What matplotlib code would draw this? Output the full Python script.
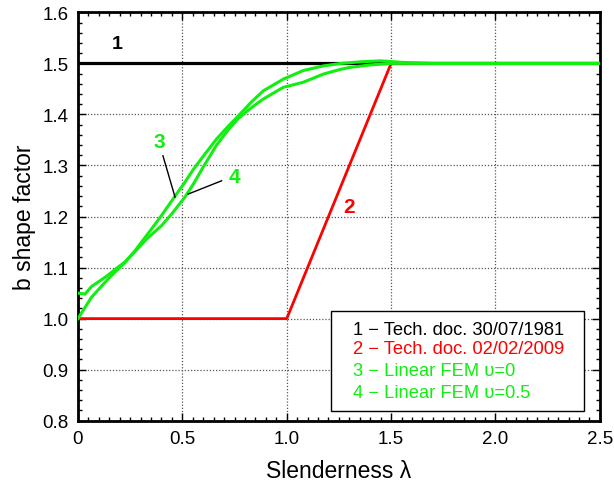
import matplotlib
matplotlib.use("Agg")
import matplotlib.pyplot as plt
from matplotlib.ticker import MultipleLocator, FuncFormatter
from matplotlib.patches import Rectangle

plt.rcParams['font.family'] = ['Liberation Sans', 'DejaVu Sans']

# Curve 1: Tech. doc. 30/07/1981
x1 = [0.0, 2.5]
y1 = [1.5, 1.5]
# Curve 2: Tech. doc. 02/02/2009
x2 = [0.0, 1.0, 1.5, 2.5]
y2 = [1.0, 1.0, 1.5, 1.5]
# Curve 3: Linear FEM nu=0
x3 = [0.0, 0.065, 0.145, 0.225, 0.273, 0.353, 0.40, 0.465, 0.512, 0.552, 0.60,
      0.664, 0.72, 0.768, 0.83, 0.887, 0.983, 1.079, 1.175, 1.255, 1.35, 1.45,
      1.55, 1.7, 2.0, 2.5]
y3 = [1.0, 1.042, 1.078, 1.110, 1.133, 1.176, 1.202, 1.240, 1.267, 1.292, 1.318,
      1.352, 1.377, 1.397, 1.424, 1.446, 1.469, 1.486, 1.495, 1.4997, 1.503, 1.505,
      1.502, 1.5, 1.5, 1.5]
# Curve 4: Linear FEM nu=0.5
x4 = [0.0, 0.034, 0.065, 0.105, 0.137, 0.177, 0.225, 0.273, 0.329, 0.40, 0.449,
      0.512, 0.552, 0.60, 0.664, 0.72, 0.768, 0.83, 0.887, 0.983, 1.079, 1.175,
      1.255, 1.30, 1.4, 1.5, 1.7, 2.0, 2.5]
y4 = [1.05, 1.048, 1.063, 1.074, 1.083, 1.096, 1.111, 1.131, 1.156, 1.182, 1.205,
      1.238, 1.263, 1.297, 1.340, 1.370, 1.392, 1.413, 1.430, 1.453, 1.463, 1.479,
      1.488, 1.492, 1.497, 1.5, 1.5, 1.5, 1.5]

legend_labels = ["1 \u2212 Tech. doc. 30/07/1981",
                 "2 \u2212 Tech. doc. 02/02/2009",
                 "3 \u2212 Linear FEM \u03c5=0",
                 "4 \u2212 Linear FEM \u03c5=0.5"]

GREEN = '#11ee11'
RED = '#ff0000'
BLACK = '#000000'

fig = plt.figure(figsize=(6.14, 4.85), dpi=100)
ax = fig.add_axes([0.127, 0.1305, 0.850, 0.842])

ax.plot(x1, y1, color=BLACK, lw=2.3, zorder=3)
ax.plot(x2, y2, color=RED, lw=2.0, zorder=4)
ax.plot(x3, y3, color=GREEN, lw=2.2, zorder=5)
ax.plot(x4, y4, color=GREEN, lw=2.2, zorder=5)

ax.set_xlim(0, 2.5)
ax.set_ylim(0.8, 1.6)
ax.xaxis.set_major_locator(MultipleLocator(0.5))
ax.xaxis.set_minor_locator(MultipleLocator(0.05))
ax.yaxis.set_major_locator(MultipleLocator(0.1))
ax.yaxis.set_minor_locator(MultipleLocator(0.02))
ax.xaxis.set_major_formatter(FuncFormatter(lambda v, p: "0" if abs(v) < 1e-9 else f"{v:.1f}"))
ax.yaxis.set_major_formatter(FuncFormatter(lambda v, p: f"{v:.1f}"))
ax.tick_params(which='both', direction='in', top=True, right=True, labelsize=13.5,
               width=1.0)
ax.tick_params(which='major', length=6, pad=7)
ax.tick_params(which='minor', length=3)
for s in ax.spines.values():
    s.set_linewidth(2.0)
ax.grid(True, which='major', linestyle=(0, (1, 1.5)), color='#555555', lw=0.9, zorder=1)

ax.set_xlabel("Slenderness \u03bb", fontsize=16.5, labelpad=8)
ax.set_ylabel("b shape factor", fontsize=16.5, labelpad=4)

# curve labels
ax.text(0.19, 1.538, "1", color=BLACK, fontsize=14, fontweight='bold', ha='center', va='center')
ax.text(1.30, 1.219, "2", color=RED, fontsize=15, fontweight='bold', ha='center', va='center')
ax.text(0.39, 1.346, "3", color=GREEN, fontsize=15, fontweight='bold', ha='center', va='center')
ax.text(0.75, 1.278, "4", color=GREEN, fontsize=15, fontweight='bold', ha='center', va='center')
ax.plot([0.407, 0.465], [1.319, 1.238], color=BLACK, lw=1.0, zorder=6)
ax.plot([0.688, 0.528], [1.270, 1.244], color=BLACK, lw=1.0, zorder=6)

# legend box
ax.add_patch(Rectangle((0.485, 0.0245), 0.484, 0.2445, transform=ax.transAxes,
                       facecolor='white', edgecolor='black', lw=1.0, zorder=7))
cols = [BLACK, RED, GREEN, GREEN]
ys = [0.2245, 0.1756, 0.1224, 0.0695]
for lab, c, yy in zip(legend_labels, cols, ys):
    ax.text(0.527, yy, lab, color=c, fontsize=13.2, transform=ax.transAxes,
            ha='left', va='center', zorder=8)

fig.savefig("out.png", dpi=100)
